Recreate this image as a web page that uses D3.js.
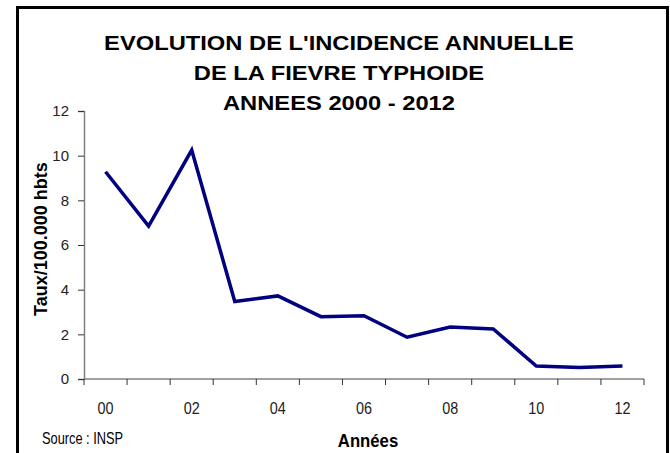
<!DOCTYPE html>
<html>
<head>
<meta charset="utf-8">
<script src="https://cdn.jsdelivr.net/npm/d3@7"></script>
<style>
  body { margin: 0; background: #fff; }
  svg { display: block; }
</style>
</head>
<body>
<svg id="chart" width="670" height="453"></svg>
<script>
const years = ["00","01","02","03","04","05","06","07","08","09","10","11","12"];
const rates = [9.28, 6.85, 10.25, 3.47, 3.72, 2.79, 2.83, 1.87, 2.33, 2.24, 0.58, 0.52, 0.58];
const yTicks = [0, 2, 4, 6, 8, 10, 12];
const xLabels = ["00","02","04","06","08","10","12"];
const titleLines = ["EVOLUTION DE L'INCIDENCE ANNUELLE", "DE LA FIEVRE TYPHOIDE", "ANNEES 2000 - 2012"];
const yTitle = "Taux/100.000 hbts";
const xTitle = "Années";
const sourceText = "Source : INSP";

const svg = d3.select("#chart");
const W = 670, H = 453;
const plot = { left: 84, right: 644, top: 111, bottom: 379 };

svg.append("rect").attr("width", W).attr("height", H).attr("fill", "#fff");
// frame
svg.append("rect")
  .attr("x", 17.5).attr("y", 7.5).attr("width", 650).attr("height", 460)
  .attr("fill", "none").attr("stroke", "#000").attr("stroke-width", 3);

const x = d3.scaleBand().domain(years).range([plot.left, plot.right]).padding(0);
const y = d3.scaleLinear().domain([0, 12]).range([plot.bottom, plot.top]);

// title
const title = svg.append("text")
  .attr("transform", "translate(339,0) scale(1.13,1)")
  .attr("text-anchor", "middle")
  .attr("font-family", "'Liberation Sans', Arial, sans-serif")
  .attr("font-weight", "bold")
  .attr("font-size", 21)
  .attr("fill", "#000");
titleLines.forEach((t, i) => {
  title.append("tspan").attr("x", 0).attr("y", 50 + i * 30).text(t);
});

// y axis
const yAxis = svg.append("g")
  .attr("transform", `translate(${plot.left},0)`)
  .call(d3.axisLeft(y).tickValues(yTicks).tickSize(6).tickPadding(9).tickFormat(d3.format("d")));
yAxis.select(".domain").attr("stroke", "#808080").attr("stroke-width", 1.5);
yAxis.selectAll(".tick line").attr("stroke", "#333");
yAxis.selectAll(".tick text")
  .attr("font-family", "'Liberation Sans', Arial, sans-serif")
  .attr("font-size", 15).attr("fill", "#222");

// x axis line
svg.append("line")
  .attr("x1", plot.left).attr("x2", plot.right)
  .attr("y1", plot.bottom).attr("y2", plot.bottom)
  .attr("stroke", "#808080").attr("stroke-width", 1.5);
// x ticks at category boundaries
const bounds = years.map(d => x(d)).concat([x(years[years.length - 1]) + x.bandwidth()]);
svg.append("g").selectAll("line").data(bounds).join("line")
  .attr("x1", d => d).attr("x2", d => d)
  .attr("y1", plot.bottom).attr("y2", plot.bottom + 6)
  .attr("stroke", "#333");
// x labels
svg.append("g").selectAll("text").data(xLabels).join("text")
  .attr("transform", d => `translate(${x(d) + x.bandwidth() / 2},414) scale(0.9,1)`)
  .attr("text-anchor", "middle")
  .attr("font-family", "'Liberation Sans', Arial, sans-serif")
  .attr("font-size", 16).attr("fill", "#222")
  .text(d => d);

// line
const line = d3.line()
  .x((d, i) => x(years[i]) + x.bandwidth() / 2)
  .y(d => y(d));
svg.append("path").datum(rates)
  .attr("d", line)
  .attr("fill", "none")
  .attr("stroke", "#000080")
  .attr("stroke-width", 3.5)
  .attr("stroke-linejoin", "miter");

// y title
svg.append("text")
  .attr("transform", "translate(47,239) rotate(-90)")
  .attr("text-anchor", "middle")
  .attr("font-family", "'Liberation Sans', Arial, sans-serif")
  .attr("font-weight", "bold")
  .attr("font-size", 18)
  .text(yTitle);

// x title
svg.append("text")
  .attr("transform", "translate(368,447) scale(0.88,1)")
  .attr("text-anchor", "middle")
  .attr("font-family", "'Liberation Sans', Arial, sans-serif")
  .attr("font-weight", "bold")
  .attr("font-size", 19)
  .text(xTitle);

// source
svg.append("text")
  .attr("transform", "translate(42,444) scale(0.8,1)")
  .attr("font-family", "'Liberation Sans', Arial, sans-serif")
  .attr("font-size", 16)
  .text(sourceText);
</script>
</body>
</html>
